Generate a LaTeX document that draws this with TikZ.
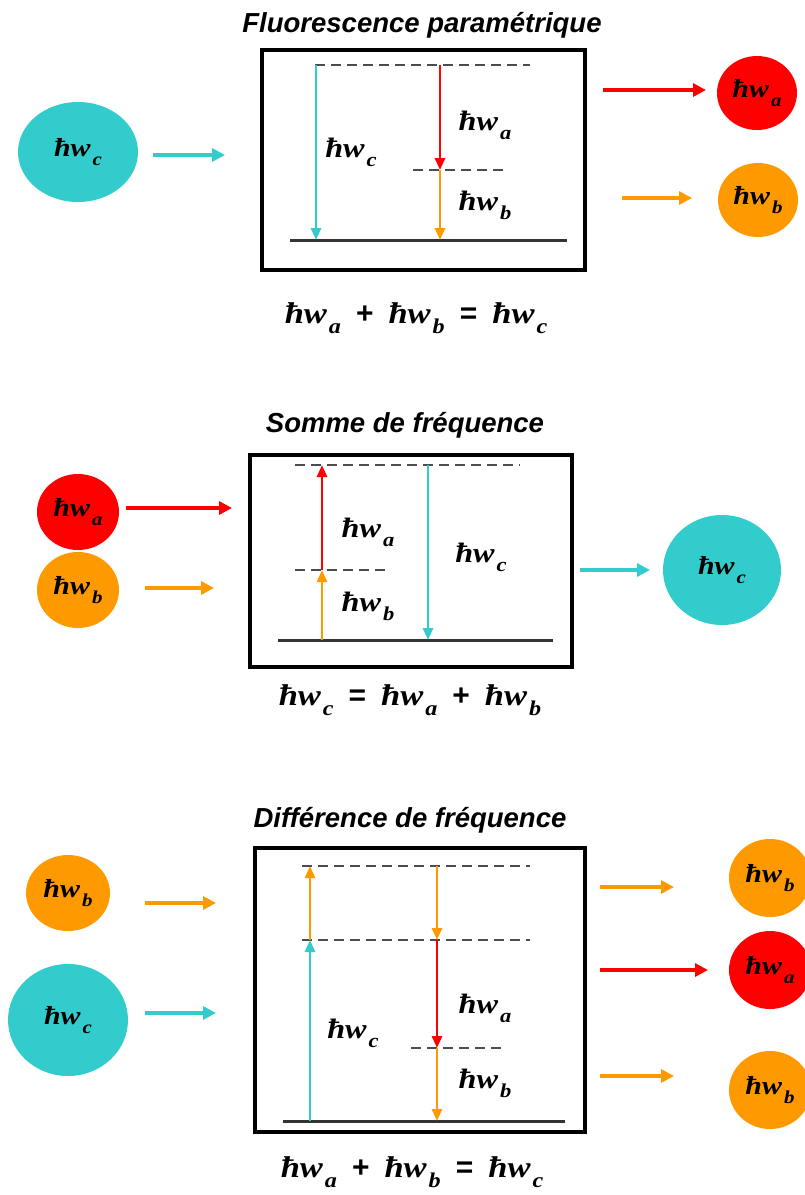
\documentclass[tikz,border=0pt]{standalone}
\usepackage{fontspec}
\usepackage{graphicx}
\setmainfont{Liberation Sans}
\newfontfamily\hwfont{Liberation Serif}[FakeStretch=1.15]
\usetikzlibrary{arrows.meta, shapes.geometric}
\definecolor{turq}{RGB}{51,204,204}
\definecolor{orng}{RGB}{255,153,0}
\definecolor{rouge}{RGB}{255,0,0}
\newcommand{\hbw}[1]{{\hwfont\bfseries\itshape ħw\kern2pt\raisebox{-0.7ex}{\scalebox{0.7}{#1}}}}
\newcommand{\bop}[1]{{\bfseries\enspace#1\enspace}}

\begin{document}
\begin{tikzpicture}[x=1pt, y=-1pt,
    photon/.style={ellipse, inner sep=0pt, draw=none, font=\fontsize{26}{30}\selectfont},
    cadre/.style={draw, line width=3.5pt, inner sep=0pt},
    titre/.style={font=\fontsize{27.5}{30}\selectfont\bfseries\itshape},
    lbl/.style={font=\fontsize{28}{30}\selectfont},
    eqn/.style={font=\fontsize{30}{32}\selectfont},
    beam/.style={line width=3.2pt, -{Triangle[length=13pt,width=13pt]}},
    trans/.style={line width=2.8pt, -{Triangle[length=12pt,width=10pt]}},
    niveau/.style={line width=3pt, black!80},
    virtuel/.style={line width=2.6pt, black!70, dash pattern=on 10pt off 6pt}]
    \useasboundingbox (0,0) rectangle (805,1195);
    \clip (0,0) rectangle (805,1195);

    % Fluorescence parametrique
    \node[titre] (titleF) at (422,25) {Fluorescence paramétrique};
    \node[cadre, minimum width=323pt, minimum height=220pt] (boxF) at (423.5,160) {};
    \coordinate (F-v1l) at (315,65);  \coordinate (F-v1r) at (530,65);
    \coordinate (F-v2l) at (413,170); \coordinate (F-v2r) at (503,170);
    \coordinate (F-gl) at (290,240);  \coordinate (F-gr) at (567,240);
    \draw[virtuel] (F-v1l) -- (F-v1r);
    \draw[virtuel] (F-v2l) -- (F-v2r);
    \draw[niveau] (F-gl) -- (F-gr);
    \coordinate (F-c1) at (316,65);  \coordinate (F-c2) at (316,240);
    \coordinate (F-a1) at (440,65);  \coordinate (F-a2) at (440,170);
    \coordinate (F-b2) at (440,240);
    \draw[trans, turq] (F-c1) -- (F-c2);
    \draw[trans, rouge] (F-a1) -- (F-a2);
    \draw[trans, orng] (F-a2) -- (F-b2);
    \node[lbl] (F-lc) at (351,152) {\hbw{c}};
    \node[lbl] (F-la) at (485,125) {\hbw{a}};
    \node[lbl] (F-lb) at (485,205) {\hbw{b}};
    \node[photon, fill=turq, minimum width=120pt, minimum height=100pt] (F-pc) at (78,152) {\hbw{c}};
    \node[photon, fill=rouge, minimum width=80pt, minimum height=74pt] (F-pa) at (757,93) {\hbw{a}};
    \node[photon, fill=orng, minimum width=80pt, minimum height=74pt] (F-pb) at (758,200) {\hbw{b}};
    \coordinate (F-in1) at (153,155); \coordinate (F-in2) at (225,155);
    \coordinate (F-oa1) at (603,90);  \coordinate (F-oa2) at (706,90);
    \coordinate (F-ob1) at (622,198); \coordinate (F-ob2) at (692,198);
    \draw[beam, turq] (F-in1) -- (F-in2);
    \draw[beam, rouge] (F-oa1) -- (F-oa2);
    \draw[beam, orng] (F-ob1) -- (F-ob2);
    \node[eqn] (eqF) at (416,318) {\hbw{a}\bop{+}\hbw{b}\bop{=}\hbw{c}};

    % Somme de frequence
    \node[titre] (titleS) at (405,425) {Somme de fréquence};
    \node[cadre, minimum width=322pt, minimum height=212pt] (boxS) at (411,561) {};
    \coordinate (S-v1l) at (295,465); \coordinate (S-v1r) at (520,465);
    \coordinate (S-v2l) at (295,570); \coordinate (S-v2r) at (385,570);
    \coordinate (S-gl) at (278,640);  \coordinate (S-gr) at (553,640);
    \draw[virtuel] (S-v1l) -- (S-v1r);
    \draw[virtuel] (S-v2l) -- (S-v2r);
    \draw[niveau] (S-gl) -- (S-gr);
    \coordinate (S-b0) at (322,640); \coordinate (S-b1) at (322,570);
    \coordinate (S-a1) at (322,465);
    \coordinate (S-c1) at (428,465); \coordinate (S-c2) at (428,640);
    \draw[trans, orng] (S-b0) -- (S-b1);
    \draw[trans, rouge] (S-b1) -- (S-a1);
    \draw[trans, turq] (S-c1) -- (S-c2);
    \node[lbl] (S-la) at (368,532) {\hbw{a}};
    \node[lbl] (S-lb) at (368,606) {\hbw{b}};
    \node[lbl] (S-lc) at (481,557) {\hbw{c}};
    \node[photon, fill=rouge, minimum width=82pt, minimum height=76pt] (S-pa) at (78,512) {\hbw{a}};
    \node[photon, fill=orng, minimum width=82pt, minimum height=76pt] (S-pb) at (78,590) {\hbw{b}};
    \node[photon, fill=turq, minimum width=118pt, minimum height=110pt] (S-pc) at (722,570) {\hbw{c}};
    \coordinate (S-ia1) at (126,508); \coordinate (S-ia2) at (232,508);
    \coordinate (S-ib1) at (145,588); \coordinate (S-ib2) at (214,588);
    \coordinate (S-oc1) at (580,570); \coordinate (S-oc2) at (650,570);
    \draw[beam, rouge] (S-ia1) -- (S-ia2);
    \draw[beam, orng] (S-ib1) -- (S-ib2);
    \draw[beam, turq] (S-oc1) -- (S-oc2);
    \node[eqn] (eqS) at (410,700) {\hbw{c}\bop{=}\hbw{a}\bop{+}\hbw{b}};

    % Difference de frequence
    \node[titre] (titleD) at (410,820) {Différence de fréquence};
    \node[cadre, minimum width=330pt, minimum height=284pt] (boxD) at (420,990) {};
    \coordinate (D-v1l) at (302,866);  \coordinate (D-v1r) at (530,866);
    \coordinate (D-v2l) at (302,940);  \coordinate (D-v2r) at (530,940);
    \coordinate (D-v3l) at (411,1048); \coordinate (D-v3r) at (501,1048);
    \coordinate (D-gl) at (283,1121);  \coordinate (D-gr) at (565,1121);
    \draw[virtuel] (D-v1l) -- (D-v1r);
    \draw[virtuel] (D-v2l) -- (D-v2r);
    \draw[virtuel] (D-v3l) -- (D-v3r);
    \draw[niveau] (D-gl) -- (D-gr);
    \coordinate (D-c0) at (310,1121); \coordinate (D-c1) at (310,940);
    \coordinate (D-b1) at (310,866);
    \coordinate (D-d0) at (437,866); \coordinate (D-d1) at (437,940);
    \coordinate (D-d2) at (437,1048); \coordinate (D-d3) at (437,1121);
    \draw[trans, turq] (D-c0) -- (D-c1);
    \draw[trans, orng] (D-c1) -- (D-b1);
    \draw[trans, orng] (D-d0) -- (D-d1);
    \draw[trans, rouge] (D-d1) -- (D-d2);
    \draw[trans, orng] (D-d2) -- (D-d3);
    \node[lbl] (D-lc) at (353,1033) {\hbw{c}};
    \node[lbl] (D-la) at (485,1008) {\hbw{a}};
    \node[lbl] (D-lb) at (485,1083) {\hbw{b}};
    \node[photon, fill=orng, minimum width=84pt, minimum height=76pt] (D-pb) at (68,893) {\hbw{b}};
    \node[photon, fill=turq, minimum width=120pt, minimum height=112pt] (D-pc) at (68,1020) {\hbw{c}};
    \node[photon, fill=orng, minimum width=82pt, minimum height=78pt] (D-ob) at (770,878) {\hbw{b}};
    \node[photon, fill=rouge, minimum width=82pt, minimum height=78pt] (D-oa) at (770,970) {\hbw{a}};
    \node[photon, fill=orng, minimum width=82pt, minimum height=78pt] (D-oc) at (770,1090) {\hbw{b}};
    \coordinate (D-ib1) at (145,903);  \coordinate (D-ib2) at (216,903);
    \coordinate (D-ic1) at (145,1013); \coordinate (D-ic2) at (216,1013);
    \coordinate (D-o11) at (600,887);  \coordinate (D-o12) at (674,887);
    \coordinate (D-o21) at (600,970);  \coordinate (D-o22) at (708,970);
    \coordinate (D-o31) at (600,1076); \coordinate (D-o32) at (674,1076);
    \draw[beam, orng] (D-ib1) -- (D-ib2);
    \draw[beam, turq] (D-ic1) -- (D-ic2);
    \draw[beam, orng] (D-o11) -- (D-o12);
    \draw[beam, rouge] (D-o21) -- (D-o22);
    \draw[beam, orng] (D-o31) -- (D-o32);
    \node[eqn] (eqD) at (412,1172) {\hbw{a}\bop{+}\hbw{b}\bop{=}\hbw{c}};
\end{tikzpicture}
\end{document}
